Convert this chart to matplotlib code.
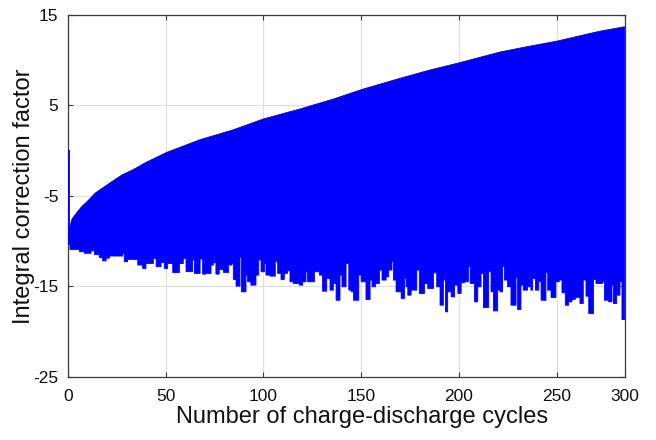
import numpy as np
import matplotlib
matplotlib.use("Agg")
import matplotlib.pyplot as plt

plt.rcParams["font.family"] = ["Liberation Sans", "DejaVu Sans"]
plt.rcParams["axes.unicode_minus"] = False

# Upper envelope of the correction-factor signal (cycle, value)
upper_cycles = [0, 1, 2, 4, 7, 10, 14, 16.4, 22, 27.6, 33.4, 40, 50.5, 67.5,
                84.6, 100, 118.7, 135.8, 151, 170, 185, 200, 221, 235, 250,
                262, 272, 284.8]
upper_values = [-9.0, -8.4, -7.6, -7.0, -6.2, -5.6, -4.7, -4.33, -3.5, -2.7,
                -2.1, -1.3, -0.2, 1.2, 2.3, 3.5, 4.6, 5.7, 6.8, 8.0, 8.9, 9.7,
                10.9, 11.5, 12.1, 12.7, 13.2, 13.7]

# Lower envelope: start cycle of each step and its minimum value
lower_start = [
    0, 1.0, 5.8, 8.4, 11.8, 13.5, 16.0, 17.7, 19.5, 21.2, 28.0, 28.8, 30.5,
    35.7, 38.2, 39.9, 43.7, 45.1, 47.6, 49.3, 51.0, 53.6, 57.0, 59.0, 60.4,
    63.8, 64.7, 67.6, 68.9,
    70.6, 73.2, 74.4, 75.7, 77.4, 79.5, 82.2, 83.9, 84.6, 86.0, 88.0, 88.7,
    91.1, 91.9, 93.6, 96.2, 97.6, 98.8, 100.5, 101.3, 103.4, 106.1, 107.3,
    109.0, 110.7, 112.4, 113.6, 115.3, 118.4, 120.1, 121.8, 122.6, 126.1,
    128.6, 130.3, 132.4, 134.1, 135.8, 137.2, 139.2, 140.2,
    142.3, 143.7, 144.9, 146.1, 148.8, 150.0, 152.5, 154.6, 155.6, 157.3,
    159.4, 160.7, 162.8, 164.1, 165.8, 166.5, 167.9, 170.5, 172.2, 173.0,
    173.9, 175.6, 178.5, 179.8, 182.4, 184.1, 187.0, 188.7, 190.4, 192.1,
    193.2, 194.3, 196.1, 197.8, 199.5, 201.2, 202.9, 204.9, 205.8, 208.0,
    209.7, 211.4, 212.6,
    215.3, 216.5, 217.7, 219.9, 221.1, 222.4, 223.3, 225.0, 226.7, 229.3,
    230.1, 231.8, 233.0, 235.2, 236.9, 237.8, 239.2, 240.9, 242.1, 244.6,
    245.5, 247.2, 249.7, 251.4, 252.8, 254.5, 256.2, 257.9, 259.6, 262.0,
    263.7, 265.1, 266.5, 268.9, 270.2, 273.6, 274.5, 276.7, 278.4, 279.1,
    280.8, 282.5, 283.5,
]
lower_values = [
    -10.4, -10.95, -11.2, -11.37, -11.1, -11.5, -11.85, -12.2, -11.9, -11.67,
    -11.4, -12.3, -12.04, -12.67, -13.04, -12.5, -11.93, -12.85, -12.4,
    -13.04, -12.5, -13.5, -12.5, -11.93, -13.4, -12.1, -13.6, -12.0, -13.67,
    -13.59, -12.67, -12.41, -13.67, -13.15, -13.48, -12.67, -12.48, -14.26,
    -15.0, -11.8, -15.63, -13.78, -14.52, -14.89, -13.78, -12.11, -13.41,
    -12.48, -13.78, -13.89, -12.30, -13.59, -14.26, -13.59, -13.30, -14.52,
    -14.70, -14.89, -14.52, -13.41, -14.52, -13.41, -13.78, -15.56, -14.15,
    -15.44, -14.70, -16.56, -13.78, -15.07,
    -12.48, -15.44, -15.63, -16.56, -13.78, -14.52, -16.48, -14.33, -15.07,
    -14.70, -13.22, -14.33, -13.96, -13.22, -12.30, -14.33, -15.63, -16.37,
    -14.15, -15.07, -16.0, -15.44, -13.22, -15.81, -14.70, -15.26, -13.52,
    -15.07, -17.11, -14.33, -17.85, -15.63, -16.19, -14.89, -15.81, -14.63,
    -14.52, -12.85, -14.70, -16.74, -15.07, -13.59, -17.37,
    -13.41, -15.63, -17.74, -15.44, -15.63, -12.85, -14.33, -15.07, -17.11,
    -14.04, -17.59, -14.89, -15.44, -15.07, -15.44, -14.15, -15.44, -14.52,
    -16.56, -13.52, -15.44, -16.26, -14.52, -14.33, -15.74, -17.11, -16.74,
    -16.48, -16.26, -16.93, -14.33, -16.11, -18.04, -14.26, -14.70, -14.52,
    -16.56, -16.74, -14.89, -16.93, -16.0, -14.52, -18.70,
]

# Initial transient at the first cycle
spike_cycle = 0.4
spike_top = 0.1
spike_bottom = -9.0

x_max = upper_cycles[-1]
x_ticks = [0, 50, 100, 150, 200, 250, x_max]
x_tick_labels = ["0", "50", "100", "150", "200", "250", "300"]
y_ticks = [-25, -15, -5, 5, 15]

fig = plt.figure(figsize=(6.56, 4.40), dpi=100)
ax = fig.add_axes([68 / 656, 1 - 376.5 / 440, (624.5 - 68) / 656, (376.5 - 15) / 440])

# Envelope polygon: smooth upper edge, stepped lower edge
edges = np.append(np.array(lower_start, dtype=float), x_max)
lx = np.repeat(edges, 2)[1:-1]
ly = np.repeat(np.array(lower_values, dtype=float), 2)
poly_x = np.concatenate([np.array(upper_cycles, dtype=float), lx[::-1]])
poly_y = np.concatenate([np.array(upper_values, dtype=float), ly[::-1]])
ax.fill(poly_x, poly_y, color=(0, 0, 1), linewidth=0.6, edgecolor=(0, 0, 1), zorder=3)
ax.plot([spike_cycle, spike_cycle], [spike_top, spike_bottom], color=(0, 0, 1),
        linewidth=1.3, zorder=3, solid_capstyle="butt")

ax.set_xlim(0, x_max)
ax.set_ylim(-25, 15)
ax.set_xticks(x_ticks)
ax.set_xticklabels(x_tick_labels)
ax.set_yticks(y_ticks)

ax.grid(True, color="#dedede", linewidth=0.8, zorder=0)
ax.set_axisbelow(True)
for s in ax.spines.values():
    s.set_color("#3a3a3a")
    s.set_linewidth(0.9)
ax.tick_params(direction="in", length=3.5, width=0.8, color="#3a3a3a",
               labelsize=12.5, top=True, right=True, labelcolor="#111111")
ax.tick_params(axis="x", pad=9)
ax.tick_params(axis="y", pad=7)

fig.text(362 / 656, 1 - 417 / 440, "Number of charge-discharge cycles",
         ha="center", va="center", fontsize=17, color="#111111")
fig.text(24 / 656, 1 - 196 / 440, "Integral correction factor",
         ha="center", va="center", rotation=90, fontsize=17, color="#111111")

fig.savefig("out.png", dpi=100)
